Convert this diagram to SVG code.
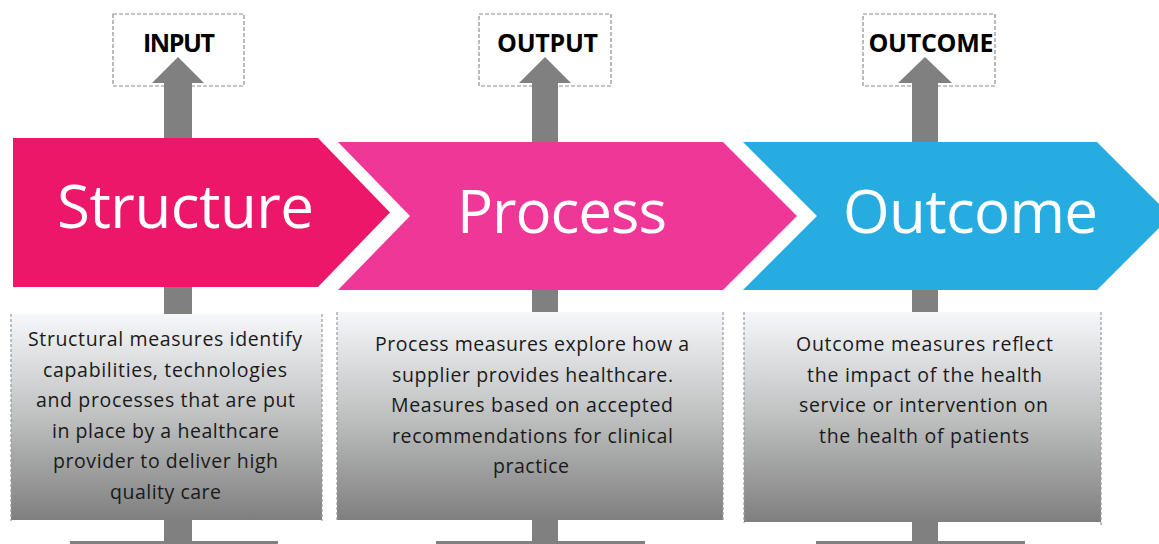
<svg xmlns="http://www.w3.org/2000/svg" width="1159" height="544" viewBox="0 0 1159 544">
<style>
.lbox{fill:#fff;stroke:#8c8c8c;stroke-width:1.2;stroke-dasharray:4 2}
.lbl{font-family:"Open Sans","Liberation Sans",sans-serif;font-weight:bold;font-size:25px;fill:#000;text-anchor:middle}
.big{font-family:"Open Sans","Liberation Sans",sans-serif;font-size:60px;fill:#fff;text-anchor:middle}
.body{font-family:"Open Sans","Liberation Sans",sans-serif;font-size:19.5px;fill:#1a1a1a;text-anchor:middle}
.gray{fill:#808080}
.side{stroke:#9a9a9a;stroke-width:1.2;stroke-dasharray:3 2;fill:none}
</style>
<defs>
<linearGradient id="g" x1="0" y1="0" x2="0" y2="1">
<stop offset="0" stop-color="#f6f7fa"/>
<stop offset="0.5" stop-color="#bfc0c0"/>
<stop offset="1" stop-color="#7e7f7e"/>
</linearGradient>
</defs>

<g id="input-label">
<rect class="lbox" x="113" y="14" width="131" height="72"/>
<text class="lbl" x="179" y="52" textLength="72">INPUT</text>
</g>
<g id="output-label">
<rect class="lbox" x="479" y="14" width="132" height="72"/>
<text class="lbl" x="547.5" y="52" textLength="101">OUTPUT</text>
</g>
<g id="outcome-label">
<rect class="lbox" x="863" y="14" width="132" height="72"/>
<text class="lbl" x="931" y="52" textLength="125">OUTCOME</text>
</g>

<g id="connectors">
<path class="gray" d="M164,140 L164,83 L152,83 L178,57 L204,83 L192,83 L192,140 Z"/>
<path class="gray" d="M532,144 L532,83 L519,83 L545,57 L571,83 L558,83 L558,144 Z"/>
<path class="gray" d="M912,144 L912,83 L898,83 L925,57 L952,83 L938,83 L938,144 Z"/>
<rect class="gray" x="164" y="285" width="28" height="31"/>
<rect class="gray" x="532" y="288" width="26" height="26"/>
<rect class="gray" x="912" y="288" width="26" height="26"/>
<rect class="gray" x="164" y="518" width="28" height="26"/>
<rect class="gray" x="532" y="518" width="26" height="26"/>
<rect class="gray" x="912" y="518" width="26" height="26"/>
<rect class="gray" x="70" y="541" width="208" height="3"/>
<rect class="gray" x="436" y="541" width="209" height="3"/>
<rect class="gray" x="816" y="541" width="209" height="3"/>
</g>

<g id="structure">
<path d="M13,138 L318,138 L390,212.5 L318,287 L13,287 Z" fill="#ED1769"/>
<text class="big" x="185.5" y="228" textLength="257">Structure</text>
</g>
<g id="process">
<path d="M338,142 L723,142 L797,216 L723,290 L338,290 L410,216 Z" fill="#EE3796"/>
<text class="big" x="562" y="233" textLength="210">Process</text>
</g>
<g id="outcome">
<path d="M743,142 L1097,142 L1171,216 L1097,290 L743,290 L817,216 Z" fill="#27ACE2"/>
<text class="big" x="970.5" y="233" textLength="255">Outcome</text>
</g>

<g id="structure-desc">
<rect x="11" y="314" width="311" height="206" fill="url(#g)"/>
<line class="side" x1="11" y1="314" x2="11" y2="521"/>
<line class="side" x1="322" y1="314" x2="322" y2="521"/>
<text class="body" x="165" y="346" textLength="274">Structural measures identify</text>
<text class="body" x="165" y="376.5" textLength="244">capabilities, technologies</text>
<text class="body" x="165.5" y="407" textLength="259">and processes that are put</text>
<text class="body" x="165.5" y="437.5" textLength="227">in place by a healthcare</text>
<text class="body" x="165.5" y="468" textLength="225">provider to deliver high</text>
<text class="body" x="165.5" y="498.5" textLength="111">quality care</text>
</g>
<g id="process-desc">
<rect x="337" y="312" width="386" height="208" fill="url(#g)"/>
<line class="side" x1="337" y1="312" x2="337" y2="521"/>
<line class="side" x1="723" y1="312" x2="723" y2="521"/>
<text class="body" x="532" y="351" textLength="314">Process measures explore how a</text>
<text class="body" x="532.5" y="381.5" textLength="281">supplier provides healthcare.</text>
<text class="body" x="532" y="412" textLength="282">Measures based on accepted</text>
<text class="body" x="532.5" y="442.5" textLength="281">recommendations for clinical</text>
<text class="body" x="531" y="473" textLength="76">practice</text>
</g>
<g id="outcome-desc">
<rect x="744" y="312" width="357" height="210" fill="url(#g)"/>
<line class="side" x1="744" y1="312" x2="744" y2="523"/>
<line class="side" x1="1101" y1="312" x2="1101" y2="525"/>
<text class="body" x="924.5" y="351" textLength="257">Outcome measures reflect</text>
<text class="body" x="924.5" y="381.5" textLength="235">the impact of the health</text>
<text class="body" x="923.5" y="412" textLength="249">service or intervention on</text>
<text class="body" x="924" y="442.5" textLength="210">the health of patients</text>
</g>
</svg>
